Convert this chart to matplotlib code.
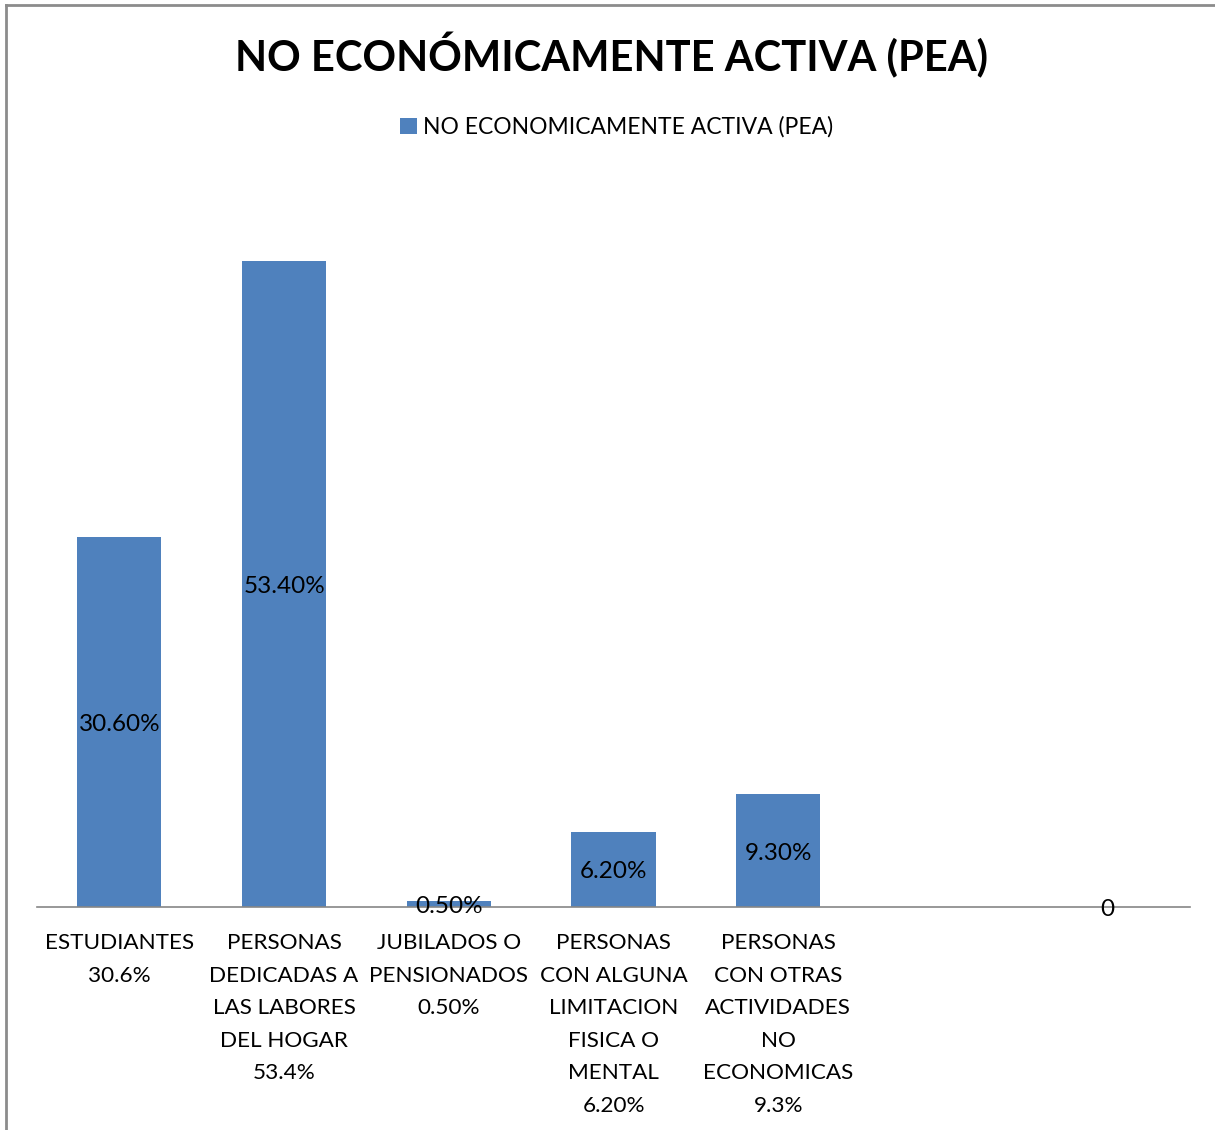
import matplotlib.pyplot as plt
from matplotlib.lines import Line2D
import numpy as np

# Datos
categorias = ['ESTUDIANTES\n30.6%',
              'PERSONAS\nDEDICADAS A\nLAS LABORES\nDEL HOGAR\n53.4%',
              'JUBILADOS O\nPENSIONADOS\n0.50%',
              'PERSONAS\nCON ALGUNA\nLIMITACION\nFISICA O\nMENTAL\n6.20%',
              'PERSONAS\nCON OTRAS\nACTIVIDADES\nNO\nECONOMICAS\n9.3%',
              '',
              '']
valores = [30.6, 53.4, 0.5, 6.2, 9.3, np.nan, 0]
etiquetas = ['30.60%', '53.40%', '0.50%', '6.20%', '9.30%', '', '0']

plt.rcParams['font.family'] = ['Lato', 'DejaVu Sans']

fig = plt.figure(figsize=(12.15, 11.3), dpi=100)
ax = fig.add_axes([37/1215, 1 - 907/1130, 1153/1215, (907 - 181)/1130])

x = np.arange(len(categorias))
barras = ax.bar(x, valores, width=0.51, color='#4F81BD',
                label='NO ECONOMICAMENTE ACTIVA (PEA)', zorder=2)

# etiquetas de datos centradas en cada barra
for xi, v, txt in zip(x, valores, etiquetas):
    if txt == '' or np.isnan(v):
        continue
    ax.text(xi, v / 2 - 0.2, txt, ha='center', va='center', fontsize=17.5, color='black', zorder=3)

ax.set_xlim(-0.5, len(categorias) - 0.5)
ax.set_ylim(0, 60)
ax.set_xticks(x)
ax.set_xticklabels(categorias, fontsize=16.2, linespacing=1.78)
ax.tick_params(axis='x', length=0, pad=19)
ax.set_yticks([])
for s in ['top', 'right', 'left']:
    ax.spines[s].set_visible(False)
ax.spines['bottom'].set_color('#868686')
ax.spines['bottom'].set_linewidth(1.2)

# titulo y leyenda
fig.text(612/1215, 1 - 55/1130, 'NO ECONÓMICAMENTE ACTIVA (PEA)', ha='center', va='center',
         fontsize=30, fontweight='bold')
ax.legend(loc='center', bbox_to_anchor=(617/1215, 1 - 127/1130), bbox_transform=fig.transFigure,
          frameon=False, fontsize=16.5, handlelength=0.7, handleheight=0.7, handletextpad=0.3)

# borde del grafico
fig.add_artist(Line2D([6/1215, 6/1215], [0, 1 - 5/1130], color='#8c8c8c', lw=2))
fig.add_artist(Line2D([6/1215, 1], [1 - 5/1130, 1 - 5/1130], color='#8c8c8c', lw=2))

plt.savefig('out.png', dpi=100)
